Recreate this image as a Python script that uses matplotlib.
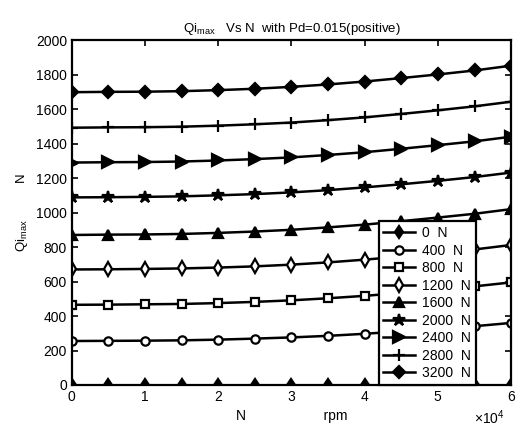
import matplotlib
matplotlib.use("Agg")
import matplotlib.pyplot as plt

plt.rcParams['font.family'] = ['Liberation Sans', 'DejaVu Sans']
plt.rcParams['mathtext.fontset'] = 'custom'
plt.rcParams['mathtext.rm'] = 'Liberation Sans'
plt.rcParams['mathtext.it'] = 'Liberation Sans'

speed_rpm = [0, 5000, 10000, 15000, 20000, 25000, 30000, 35000, 40000, 45000, 50000, 55000, 60000]
labels = ['0  N', '400  N', '800  N', '1200  N', '1600  N', '2000  N', '2400  N', '2800  N', '3200  N']
q_0 = [0, 0, 0, 0, 0, 0, 0, 0, 0, 0, 0, 0, 0]
q_400 = [255, 256, 257, 259, 263, 269, 276, 285, 297, 311, 325, 341, 360]
q_800 = [465, 466, 468, 470, 475, 482, 491, 503, 517, 534, 552, 572, 595]
q_1200 = [670, 671, 673, 676, 681, 688, 698, 711, 727, 745, 765, 786, 812]
q_1600 = [870, 872, 873, 876, 882, 890, 900, 914, 930, 950, 971, 993, 1020]
q_2000 = [1088, 1089, 1091, 1094, 1100, 1107, 1117, 1130, 1146, 1164, 1184, 1206, 1232]
q_2400 = [1290, 1292, 1293, 1296, 1302, 1310, 1320, 1334, 1350, 1370, 1391, 1413, 1440]
q_2800 = [1492, 1494, 1495, 1498, 1504, 1512, 1522, 1536, 1552, 1572, 1593, 1616, 1643]
q_3200 = [1698, 1700, 1701, 1704, 1710, 1718, 1729, 1743, 1760, 1780, 1801, 1824, 1852]
series = [q_0, q_400, q_800, q_1200, q_1600, q_2000, q_2400, q_2800, q_3200]

styles = [
    dict(marker='d', mfc='black', ms=6),
    dict(marker='o', mfc='white', ms=6),
    dict(marker='s', mfc='white', ms=6),
    dict(marker='d', mfc='white', ms=7),
    dict(marker='^', mfc='black', ms=7),
    dict(marker='*', mfc='black', ms=9),
    dict(marker='>', mfc='black', ms=8),
    dict(marker='+', mfc='black', ms=9),
    dict(marker='D', mfc='black', ms=6),
]

fig = plt.figure(figsize=(5.2, 4.41), dpi=100)
ax = fig.add_axes([0.138, 0.127, 0.845, 0.782])

for y, lab, st in zip(series, labels, styles):
    ax.plot(speed_rpm, y, color='black', lw=1.8, mec='black', mew=1.6, label=lab, **st)

ax.set_xlim(0, 60000)
ax.set_ylim(0, 2000)
ax.set_yticks(range(0, 2001, 200))
ax.set_xticks(range(0, 60001, 10000))
ax.ticklabel_format(style='sci', axis='x', scilimits=(0, 0), useMathText=True)
ax.tick_params(direction='in', top=True, right=True, labelsize=10, length=4, width=1.2)
for s in ax.spines.values():
    s.set_linewidth(1.6)
off = ax.xaxis.get_offset_text()
off.set_x(0.985)
off.set_fontsize(10)

ax.set_title('Qi$_{max}$   Vs N  with Pd=0.015(positive)', fontsize=9.5)
ax.set_xlabel('N                    rpm', fontsize=10)
ax.set_ylabel('Qi$_{max}$          N', fontsize=9.5)

leg = ax.legend(loc='lower right', bbox_to_anchor=(0.92, 0.0), fontsize=10,
                frameon=True, fancybox=False, edgecolor='black', framealpha=1,
                borderpad=0.35, labelspacing=0.25, handlelength=2.3, handletextpad=0.5,
                borderaxespad=0)
leg.get_frame().set_linewidth(1.6)

fig.savefig('out.png', dpi=100)
